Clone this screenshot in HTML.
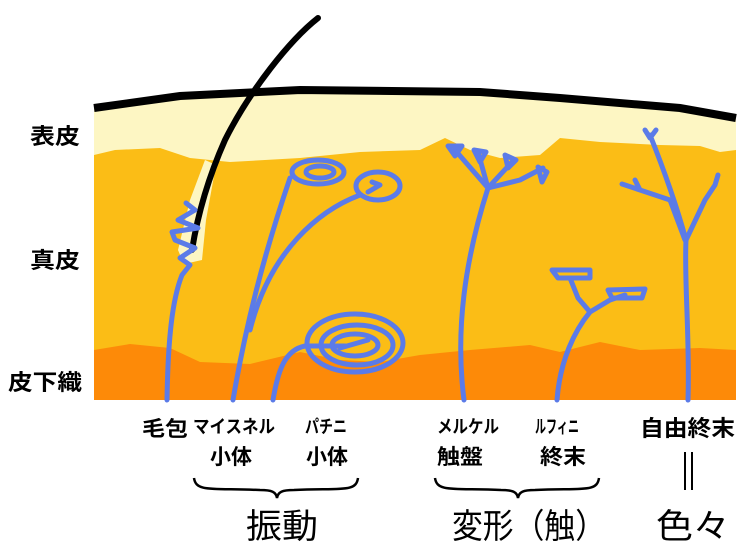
<!DOCTYPE html>
<html><head><meta charset="utf-8"><style>
body{margin:0;background:#fff;width:744px;height:544px;overflow:hidden}
svg{display:block}
text{font-family:"Liberation Sans","Noto Sans CJK JP",sans-serif;fill:#000}
.b{font-weight:bold}
</style></head><body>
<svg width="744" height="544" viewBox="0 0 744 544">
<path d="M94,108 L180,96 L300,90 L480,92 L560,98 L680,108 L736,118 L736,400 L94,400 Z" fill="#fdf6c3"/>
<path d="M94,155 L115,150 L160,148 L190,158 L230,162 L300,158 L360,152 L420,150 L445,138 L470,150 L500,158 L540,155 L560,138 L600,142 L660,145 L700,146 L720,152 L736,150 L736,400 L94,400 Z" fill="#fbbd16"/>
<path d="M94,350 L130,344 L170,348 L200,362 L250,364 L300,352 L340,360 L380,362 L420,355 L470,350 L530,345 L560,352 L600,342 L640,350 L700,348 L736,350 L736,400 L94,400 Z" fill="#fd8a08"/>
<path d="M184,264 L178,250 L190,200 L205,160 L216,165 L206,220 L202,260 Z" fill="#fdf6c3"/>
<path d="M94,108 L180,96 L300,90 L480,92 L560,98 L680,108 L736,118" stroke="#000" stroke-width="8" fill="none"/>
<path d="M318,18 C290,40 250,90 225,140 C205,185 196,225 192,250" stroke="#000" stroke-width="6" fill="none" stroke-linecap="round"/>
<g stroke="#5b7be8" stroke-width="5" fill="none" stroke-linecap="round" stroke-linejoin="round">
<path d="M167,400 C168,340 172,300 182,275 L190,265 L180,258 L195,248 L175,240 L172,232 L198,228 L178,220 L195,210 L186,203"/>
<path d="M233,400 C245,330 262,260 290,178"/>
<ellipse cx="318" cy="172" rx="26" ry="12"/>
<ellipse cx="320" cy="172" rx="14" ry="6"/>
<path d="M250,330 C270,250 320,210 360,195"/>
<ellipse cx="378" cy="186" rx="22" ry="14"/>
<path d="M368,192 L380,185 L372,182"/>
<path d="M273,400 C278,370 285,350 305,346 L345,346"/>
<ellipse cx="355" cy="343" rx="48" ry="29"/>
<ellipse cx="357" cy="345" rx="36" ry="20"/>
<ellipse cx="355" cy="345" rx="23" ry="11"/>
<path d="M340,348 L368,340"/>
<path d="M464,400 C455,330 465,260 488,188"/>
<path d="M488,188 L455,150 M488,188 L478,152 M488,188 L512,162 M488,188 L520,180 L543,168"/>
<path d="M448,146 L462,146 L455,156 Z M474,150 L486,152 L480,162 Z M505,155 L516,160 L508,168 Z M538,167 L547,172 L542,182 Z"/>
<path d="M557,400 C560,360 575,330 590,312 L610,300 L625,295 M590,312 L578,298 L570,278"/>
<path d="M552,270 L590,270 L590,278 L558,278 Z"/>
<path d="M608,290 L645,289 L642,298 L612,298 Z"/>
<path d="M688,400 C690,340 684,280 686,240 C675,200 660,160 650,135 M645,130 L650,138 L656,130"/>
<path d="M686,240 L705,200 L715,185 M715,185 L718,175"/>
<path d="M622,184 L640,190 L670,200 L685,240 M640,190 L635,180"/>
</g>
<g lengthAdjust="spacingAndGlyphs">
<text x="30" y="144" font-size="22" class="b" textLength="50" lengthAdjust="spacingAndGlyphs">表皮</text>
<text x="30" y="268" font-size="22" class="b" textLength="50" lengthAdjust="spacingAndGlyphs">真皮</text>
<text x="8" y="390" font-size="22" class="b" textLength="74" lengthAdjust="spacingAndGlyphs">皮下織</text>
<g class="b">
<text x="142" y="436" font-size="21" textLength="46" lengthAdjust="spacingAndGlyphs">毛包</text>
<text x="193" y="433" font-size="18" textLength="82" lengthAdjust="spacingAndGlyphs">マイスネル</text>
<text x="210" y="464" font-size="21" textLength="42" lengthAdjust="spacingAndGlyphs">小体</text>
<text x="305" y="433" font-size="18" textLength="42" lengthAdjust="spacingAndGlyphs">パチニ</text>
<text x="306" y="464" font-size="21" textLength="42" lengthAdjust="spacingAndGlyphs">小体</text>
<text x="437" y="433" font-size="18" textLength="62" lengthAdjust="spacingAndGlyphs">メルケル</text>
<text x="437" y="464" font-size="21" textLength="46" lengthAdjust="spacingAndGlyphs">触盤</text>
<text x="535" y="433" font-size="18" textLength="44" lengthAdjust="spacingAndGlyphs">ルフィニ</text>
<text x="540" y="464" font-size="21" textLength="46" lengthAdjust="spacingAndGlyphs">終末</text>
<text x="640" y="436" font-size="22" textLength="95" lengthAdjust="spacingAndGlyphs">自由終末</text>
</g>
</g>
<path d="M685,452 V490 M692,452 V490" stroke="#000" stroke-width="2"/>
<g stroke="#000" stroke-width="2.5" fill="none">
<path d="M194,478 C196,492 210,488 260,490 C272,490 276,492 277,498 C278,492 282,490 294,490 C344,488 356,492 358,478"/>
<path d="M435,478 C437,492 451,488 501,490 C513,490 517,492 518,498 C519,492 523,490 535,490 C585,488 597,492 599,478"/>
</g>
<text x="246" y="538" font-size="34" textLength="72" lengthAdjust="spacingAndGlyphs">振動</text>
<text x="452" y="538" font-size="34" textLength="154" lengthAdjust="spacingAndGlyphs">変形（触）</text>
<text x="656" y="538" font-size="34" textLength="74" lengthAdjust="spacingAndGlyphs">色々</text>
</svg>
</body></html>
